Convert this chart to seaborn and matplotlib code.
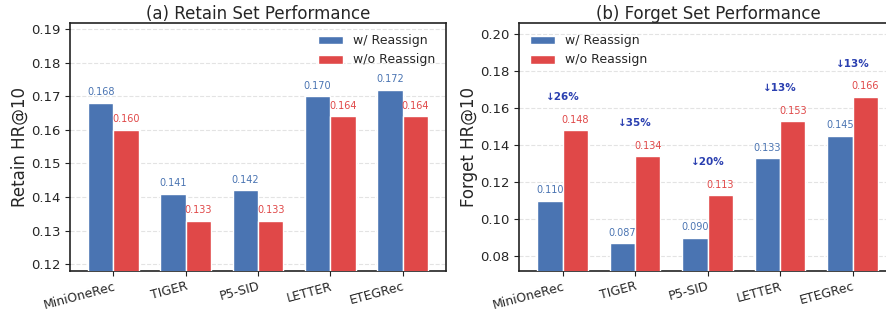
import matplotlib
matplotlib.use("Agg")
import matplotlib.pyplot as plt
import seaborn as sns
import pandas as pd

categories = ["MiniOneRec", "TIGER", "P5-SID", "LETTER", "ETEGRec"]
retain_with = [0.168, 0.141, 0.142, 0.170, 0.172]
retain_without = [0.160, 0.133, 0.133, 0.164, 0.164]
forget_with = [0.110, 0.087, 0.090, 0.133, 0.145]
forget_without = [0.148, 0.134, 0.113, 0.153, 0.166]
drop_labels = ["↓26%", "↓35%", "↓20%", "↓13%", "↓13%"]
series_names = ["w/ Reassign", "w/o Reassign"]

BLUE = "#4A74B2"
RED = "#E04848"
PCT = "#2A3FB0"

sns.set_theme(style="ticks")
plt.rcParams["font.family"] = ["DejaVu Sans"]

def long_df(a, b):
    rows = []
    for c, v in zip(categories, a):
        rows.append({"cat": c, "series": series_names[0], "val": v})
    for c, v in zip(categories, b):
        rows.append({"cat": c, "series": series_names[1], "val": v})
    return pd.DataFrame(rows)

fig = plt.figure(figsize=(8.86, 3.13), dpi=100)
ax1 = fig.add_axes([70/886, 42/313, 376/886, 248/313])
ax2 = fig.add_axes([519/886, 42/313, 377/886, 248/313])

def panel(ax, a, b, ylim, yticks, ylabel, legend_loc):
    df = long_df(a, b)
    sns.barplot(data=df, x="cat", y="val", hue="series", order=categories,
                hue_order=series_names, palette=[BLUE, RED], width=0.7,
                edgecolor="white", linewidth=1, saturation=1, ax=ax,
                errorbar=None, zorder=3)
    ax.set_ylim(*ylim)
    ax.set_xlim(-0.6, 4.6)
    ax.set_yticks(yticks)
    ax.set_yticklabels([f"{t:.2f}" for t in yticks], fontsize=9.5)
    ax.set_xticks(range(len(categories)))
    ax.set_xticklabels(categories, rotation=15, ha="right", fontsize=9,
                       rotation_mode="anchor")
    ax.tick_params(axis="both", length=3.5, width=0.8, color="#222222")
    ax.tick_params(axis="x", pad=3)
    ax.set_xlabel("")
    ax.set_ylabel(ylabel, fontsize=12, labelpad=1.5)
    ax.grid(axis="y", linestyle="--", color="#dddddd", linewidth=0.8, alpha=0.8, zorder=0)
    ax.set_axisbelow(True)
    for cont, col in zip(ax.containers, [BLUE, RED]):
        for rect in cont:
            h = rect.get_height()
            ax.annotate(f"{h:.3f}", (rect.get_x() + rect.get_width()/2, h),
                        xytext=(0, 4), textcoords="offset points",
                        ha="center", va="bottom", fontsize=7, color=col)
    ax.legend(loc=legend_loc, frameon=False, fontsize=9)
    for spine in ax.spines.values():
        spine.set_color("#222222")
        spine.set_linewidth(1.2)

panel(ax1, retain_with, retain_without, (0.118, 0.1918),
      [0.12, 0.13, 0.14, 0.15, 0.16, 0.17, 0.18, 0.19],
      "Retain HR@10", "upper right")
ax1.set_title("(a) Retain Set Performance", fontsize=12, pad=3)
panel(ax2, forget_with, forget_without, (0.072, 0.206),
      [0.08, 0.10, 0.12, 0.14, 0.16, 0.18, 0.20],
      "Forget HR@10", "upper left")
ax2.set_title("(b) Forget Set Performance", fontsize=12, pad=3, x=(708-519)/377)

for i, (a, b, lab) in enumerate(zip(forget_with, forget_without, drop_labels)):
    ax2.text(i, max(a, b) + 0.018, lab, ha="center", va="center",
             fontsize=7.5, fontweight="bold", color=PCT)

fig.savefig("out.png", dpi=100)
